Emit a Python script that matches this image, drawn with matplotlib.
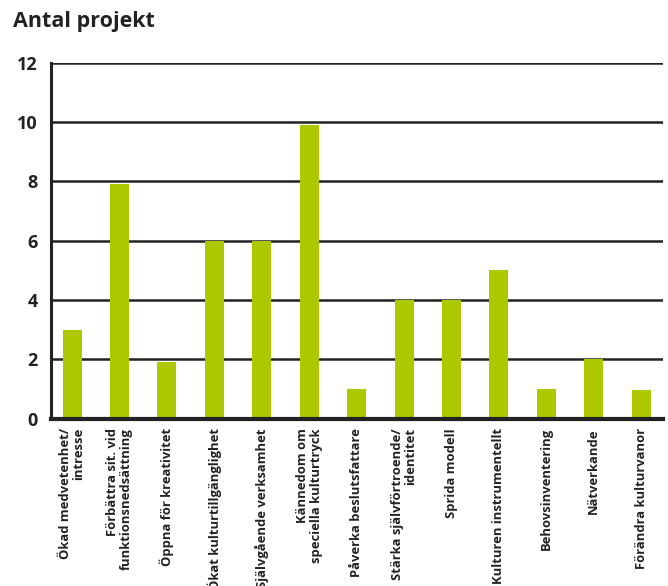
import matplotlib
matplotlib.use("Agg")
import matplotlib.pyplot as plt

categories = [
    "Ökad medvetenhet/\nintresse",
    "Förbättra sit. vid\nfunktionsnedsättning",
    "Öppna för kreativitet",
    "Ökat kulturtillgänglighet",
    "Självgående verksamhet",
    "Kännedom om\nspeciella kulturtryck",
    "Påverka beslutsfattare",
    "Stärka självförtroende/\nidentitet",
    "Sprida modell",
    "Kulturen instrumentellt",
    "Behovsinventering",
    "Nätverkande",
    "Förändra kulturvanor",
]
values = [3, 7.9, 1.9, 6, 6, 9.9, 1, 4, 4, 5, 1, 2, 0.95]
yticks = [0, 2, 4, 6, 8, 10, 12]
title = "Antal projekt"

plt.rcParams['font.family'] = ['Open Sans', 'DejaVu Sans']

fig = plt.figure(figsize=(6.68, 5.86), dpi=100)
ax = fig.add_axes([0.0756, 0.2858, 0.9925 - 0.0756, 0.893 - 0.2858])

x = list(range(len(categories)))
ax.bar(x, values, width=0.4, color="#aec800", zorder=3)

ax.set_xlim(-0.455, len(categories) - 1 + 0.46)
ax.set_ylim(0, 12)
ax.set_yticks(yticks)
ax.set_yticklabels([str(v) for v in yticks], fontsize=13, fontweight='bold', color="#222222")
ax.yaxis.grid(True, color="#222222", linewidth=1.8, zorder=1)
ax.set_axisbelow(True)

ax.set_xticks(x)
ax.set_xticklabels(categories, rotation=90, ha='center', va='top',
                   multialignment='right', fontsize=9.4, fontweight='bold',
                   color="#222222", linespacing=1.1)
ax.tick_params(axis='both', length=0)
ax.tick_params(axis='y', pad=9)
ax.tick_params(axis='x', pad=7)

for s in ['top', 'right']:
    ax.spines[s].set_visible(False)
ax.spines['left'].set_linewidth(2.2)
ax.spines['left'].set_color("#222222")
ax.spines['bottom'].set_linewidth(3)
ax.spines['bottom'].set_color("#222222")
ax.spines['left'].set_zorder(4)
ax.spines['bottom'].set_zorder(4)

fig.text(13 / 668, 1 - 11 / 586, title, fontsize=15.5, fontweight='bold',
         color="#222222", ha='left', va='top')

fig.savefig("out.png", dpi=100)
